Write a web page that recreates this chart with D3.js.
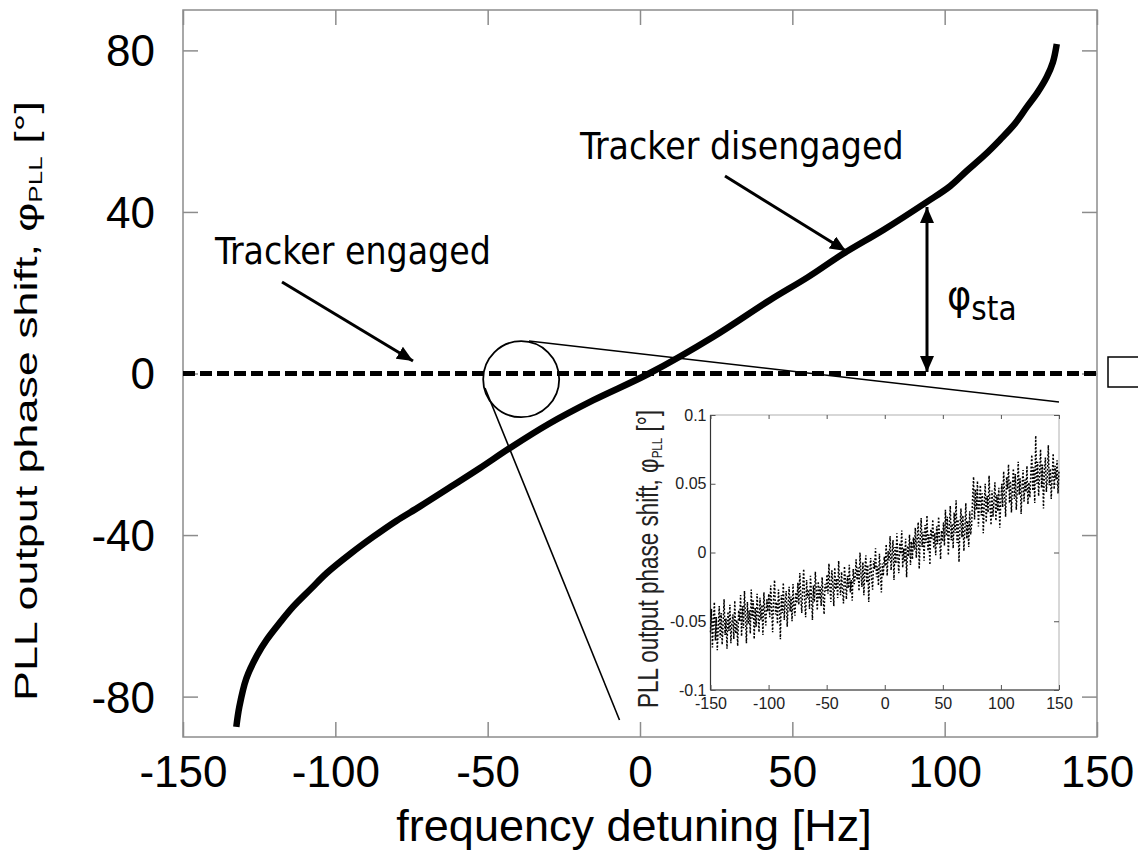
<!DOCTYPE html>
<html>
<head>
<meta charset="utf-8">
<script src="https://cdn.jsdelivr.net/npm/d3@7"></script>
<style>
  html, body { margin: 0; padding: 0; background: #fff; }
  svg { display: block; }
</style>
</head>
<body>
<svg id="chart" width="1138" height="854"></svg>
<script>
// ---------- data ----------
const xTicks = [-150, -100, -50, 0, 50, 100, 150];
const yTicks = [-80, -40, 0, 40, 80];

// Tracker disengaged: PLL output phase shift [deg] vs frequency detuning [Hz]
const disengagedHz = [-132.5, -131.5, -129.2, -125.7, -122.5, -118, -113.8, -108, -102.8, -95, -87.5, -80, -72.2, -62, -52.5, -42.6, -30, -15.3, 3, 24.1, 42.7, 55, 66.8, 80, 94.2, 101.8, 107.3, 113, 118.2, 123, 127, 130.5, 133.5, 135.5, 136.8];
const disengagedDeg = [-87.5, -82.5, -75.5, -69.8, -65.9, -61.5, -57.7, -53.3, -49.4, -44.6, -40.4, -36.5, -32.9, -28, -23.4, -18.4, -12.5, -6.6, 0, 9.1, 18.2, 23.8, 29.7, 35.6, 42.5, 46.4, 50.2, 54.0, 57.9, 61.8, 66, 69.6, 73.4, 77, 81.6];

// Tracker engaged: flat at zero over the whole range
const engagedHz = [-150, 150];
const engagedDeg = [0, 0];

// Inset (zoom of the engaged case), evenly sampled from -150 to 150 Hz
const insetXTicks = [-150, -100, -50, 0, 50, 100, 150];
const insetYTicks = [-0.1, -0.05, 0, 0.05, 0.1];
const insetDeg = [
  -0.058,-0.041,-0.069,-0.050,-0.036,-0.064,-0.047,-0.071,-0.055,-0.039,-0.062,-0.044,-0.067,-0.052,-0.034,-0.060,-0.048,-0.070,-0.043,-0.057,-0.038,-0.066,-0.051,-0.045,-0.063,-0.035,-0.059,-0.049,-0.068,-0.042,
  -0.050,-0.031,-0.061,-0.039,-0.055,-0.028,-0.047,-0.066,-0.036,-0.052,-0.042,-0.059,-0.027,-0.048,-0.035,-0.063,-0.040,-0.054,-0.030,-0.046,-0.058,-0.033,-0.049,-0.038,-0.060,-0.029,-0.045,-0.053,-0.034,-0.043,
  -0.030,-0.047,-0.024,-0.041,-0.058,-0.033,-0.020,-0.045,-0.036,-0.052,-0.027,-0.039,-0.063,-0.031,-0.044,-0.022,-0.049,-0.035,-0.028,-0.054,-0.038,-0.025,-0.043,-0.032,-0.050,-0.023,-0.040,-0.046,-0.029,-0.037,
  -0.022,-0.038,-0.015,-0.031,-0.044,-0.026,-0.012,-0.035,-0.047,-0.020,-0.033,-0.027,-0.041,-0.017,-0.030,-0.049,-0.024,-0.036,-0.014,-0.029,-0.042,-0.021,-0.034,-0.025,-0.039,-0.018,-0.032,-0.045,-0.023,-0.028,
  -0.016,-0.030,-0.008,-0.025,-0.036,-0.013,-0.022,-0.039,-0.011,-0.027,-0.019,-0.033,-0.006,-0.024,-0.031,-0.014,-0.028,-0.037,-0.010,-0.021,-0.034,-0.017,-0.026,-0.009,-0.029,-0.020,-0.035,-0.012,-0.023,-0.018,
  -0.005,-0.020,-0.011,-0.028,0.000,-0.016,-0.025,-0.007,-0.031,-0.013,-0.002,-0.022,-0.009,-0.036,-0.015,-0.004,-0.019,-0.027,-0.006,-0.012,0.003,-0.018,-0.010,-0.024,-0.001,-0.014,-0.029,-0.008,-0.017,-0.003,
  -0.010,0.006,-0.017,0.001,-0.006,0.012,-0.013,-0.002,0.009,-0.020,0.004,-0.008,0.014,-0.004,-0.015,0.007,-0.001,0.016,-0.011,0.003,-0.007,0.010,-0.018,0.005,-0.003,0.013,-0.009,0.008,-0.005,0.011,
  0.002,0.018,-0.004,0.012,0.022,-0.012,0.009,0.025,0.004,0.015,-0.006,0.020,0.007,0.027,0.001,0.013,-0.009,0.017,0.010,0.024,0.003,0.014,-0.002,0.019,0.006,0.026,0.011,-0.005,0.016,0.008,
  0.022,0.005,0.031,0.012,0.026,-0.002,0.018,0.034,0.009,0.021,0.003,0.029,0.014,0.038,0.007,0.024,-0.007,0.019,0.032,0.011,0.027,0.001,0.016,0.036,0.010,0.023,0.004,0.030,0.013,0.020,
  0.040,0.055,0.024,0.046,0.031,0.052,0.019,0.037,0.049,0.027,0.043,0.014,0.035,0.050,0.022,0.041,0.029,0.056,0.033,0.020,0.045,0.026,0.038,0.051,0.023,0.042,0.030,0.047,0.018,0.036,
  0.050,0.033,0.059,0.041,0.026,0.055,0.046,0.064,0.036,0.052,0.029,0.048,0.061,0.039,0.057,0.031,0.045,0.066,0.042,0.054,0.028,0.049,0.060,0.037,0.053,0.044,0.063,0.035,0.051,0.040,
  0.058,0.071,0.045,0.062,0.036,0.085,0.050,0.066,0.041,0.057,0.075,0.047,0.064,0.032,0.059,0.069,0.044,0.055,0.078,0.049,0.061,0.039,0.056,0.072,0.046,0.063,0.053,0.067,0.043,0.060
];

// ---------- layout ----------
const svg = d3.select("#chart");
const FRAME = "#8c8c8c";
const x = d3.scaleLinear().domain([-150, 150]).range([183, 1097]);
const y = d3.scaleLinear().domain([-90, 90]).range([737, 10]);

svg.append("defs").append("marker")
  .attr("id", "head").attr("viewBox", "0 0 16 14")
  .attr("refX", 16).attr("refY", 7)
  .attr("markerWidth", 16).attr("markerHeight", 14)
  .attr("markerUnits", "userSpaceOnUse")
  .attr("orient", "auto-start-reverse")
  .append("path").attr("d", "M0,0 L16,7 L0,14 Z").attr("fill", "#000");

// frame
svg.append("rect").attr("x", 183).attr("y", 10).attr("width", 914).attr("height", 727)
  .attr("fill", "none").attr("stroke", FRAME).attr("stroke-width", 1.5);

const tickFmt = d => String(d);
const gx = svg.append("g").attr("transform", "translate(0,737)")
  .call(d3.axisBottom(x).tickValues(xTicks).tickSize(-15).tickPadding(19).tickFormat(tickFmt));
const gxt = svg.append("g").attr("transform", "translate(0,10)")
  .call(d3.axisTop(x).tickValues(xTicks).tickSize(-15).tickFormat(""));
const gy = svg.append("g").attr("transform", "translate(183,0)")
  .call(d3.axisLeft(y).tickValues(yTicks).tickSize(-15).tickPadding(28).tickFormat(tickFmt));
const gyr = svg.append("g").attr("transform", "translate(1097,0)")
  .call(d3.axisRight(y).tickValues(yTicks).tickSize(-15).tickFormat(""));
[gx, gxt, gy, gyr].forEach(g => {
  g.select(".domain").remove();
  g.selectAll(".tick line").attr("stroke", FRAME).attr("stroke-width", 1.5);
  g.selectAll("text").attr("font-family", "'Liberation Sans', Arial, sans-serif")
    .attr("font-size", 44).attr("fill", "#000");
});
gx.selectAll("text").attr("dy", "0.71em");
gy.selectAll("text").attr("dy", "0.35em");

// axis titles
svg.append("text").attr("x", 634).attr("y", 841).attr("text-anchor", "middle")
  .attr("font-family", "'Liberation Sans', Arial, sans-serif").attr("font-size", 45)
  .text("frequency detuning [Hz]");

const yt = svg.append("text").attr("transform", "translate(37,401) rotate(-90)")
  .attr("text-anchor", "middle")
  .attr("font-family", "'Liberation Sans', Arial, sans-serif").attr("font-size", 31)
  .attr("textLength", 600).attr("lengthAdjust", "spacingAndGlyphs");
yt.append("tspan").text("PLL output phase shift, φ");
yt.append("tspan").attr("font-size", 18).attr("dy", 5).text("PLL");
yt.append("tspan").attr("dy", -5).text(" [°]");

// engaged (dashed) line
svg.append("path")
  .datum(engagedHz.map((h, i) => [h, engagedDeg[i]]))
  .attr("d", d3.line().x(d => x(d[0])).y(d => y(d[1])))
  .attr("fill", "none").attr("stroke", "#000").attr("stroke-width", 5)
  .attr("stroke-dasharray", "12,5");

// disengaged curve
svg.append("path")
  .datum(disengagedHz.map((h, i) => [h, disengagedDeg[i]]))
  .attr("d", d3.line().x(d => x(d[0])).y(d => y(d[1])).curve(d3.curveCatmullRom.alpha(0.5)))
  .attr("fill", "none").attr("stroke", "#000").attr("stroke-width", 6.5);

// annotations
const annFont = "'DejaVu Sans Condensed', 'DejaVu Sans', sans-serif";
svg.append("text").attr("x", 215).attr("y", 264).attr("font-family", annFont)
  .attr("font-size", 37).text("Tracker engaged");
svg.append("line").attr("x1", 282).attr("y1", 282).attr("x2", 413).attr("y2", 361)
  .attr("stroke", "#000").attr("stroke-width", 3).attr("marker-end", "url(#head)");

svg.append("text").attr("x", 580).attr("y", 159).attr("font-family", annFont)
  .attr("font-size", 37).text("Tracker disengaged");
svg.append("line").attr("x1", 725).attr("y1", 176).attr("x2", 846).attr("y2", 251)
  .attr("stroke", "#000").attr("stroke-width", 3).attr("marker-end", "url(#head)");

svg.append("line").attr("x1", 927).attr("y1", 207).attr("x2", 927).attr("y2", 372)
  .attr("stroke", "#000").attr("stroke-width", 3)
  .attr("marker-start", "url(#head)").attr("marker-end", "url(#head)");
const ps = svg.append("text").attr("x", 947).attr("y", 309).attr("font-family", annFont)
  .attr("font-size", 41);
ps.append("tspan").text("φ");
ps.append("tspan").attr("font-size", 33).attr("dy", 11).text("sta");

// legend-like box at right edge
svg.append("rect").attr("x", 1108).attr("y", 357).attr("width", 40).attr("height", 30)
  .attr("fill", "#fff").attr("stroke", "#000").attr("stroke-width", 1.5);

// magnifier circle and connecting lines
const cx = x(-39), cy = y(-1.4);
svg.append("circle").attr("cx", cx).attr("cy", cy).attr("r", 38)
  .attr("fill", "none").attr("stroke", "#000").attr("stroke-width", 1.8);
svg.append("line").attr("x1", 529).attr("y1", 341).attr("x2", 1059).attr("y2", 402)
  .attr("stroke", "#000").attr("stroke-width", 1.6);
svg.append("line").attr("x1", 485).attr("y1", 388).attr("x2", 619.5).attr("y2", 720)
  .attr("stroke", "#000").attr("stroke-width", 1.6);

// ---------- inset ----------
const xi = d3.scaleLinear().domain([-150, 150]).range([710.5, 1059]);
const yi = d3.scaleLinear().domain([-0.1, 0.1]).range([690, 415]);
const idx = d3.scaleLinear().domain([0, insetDeg.length - 1]).range([-150, 150]);
const inset = svg.append("g");
inset.append("rect").attr("x", 710.5).attr("y", 415).attr("width", 348.5).attr("height", 275)
  .attr("fill", "#fff").attr("stroke", "#b0b0b0").attr("stroke-width", 1);
inset.append("line").attr("x1", 710.5).attr("y1", 415).attr("x2", 710.5).attr("y2", 690)
  .attr("stroke", "#333").attr("stroke-width", 1.2);
inset.append("line").attr("x1", 710.5).attr("y1", 690).attr("x2", 1059).attr("y2", 690)
  .attr("stroke", "#333").attr("stroke-width", 1.2);

const iFmt = d => String(d);
const ix = inset.append("g").attr("transform", "translate(0,690)")
  .call(d3.axisBottom(xi).tickValues(insetXTicks).tickSize(-5).tickPadding(8).tickFormat(iFmt));
const ixt = inset.append("g").attr("transform", "translate(0,415)")
  .call(d3.axisTop(xi).tickValues(insetXTicks).tickSize(-4).tickFormat(""));
const iy = inset.append("g").attr("transform", "translate(710.5,0)")
  .call(d3.axisLeft(yi).tickValues(insetYTicks).tickSize(-5).tickPadding(4).tickFormat(iFmt));
const iyr = inset.append("g").attr("transform", "translate(1059,0)")
  .call(d3.axisRight(yi).tickValues(insetYTicks).tickSize(-5).tickFormat(""));
[ix, ixt, iy, iyr].forEach(g => {
  g.select(".domain").remove();
  g.selectAll(".tick line").attr("stroke", "#555").attr("stroke-width", 1);
  g.selectAll("text").attr("font-family", "'Liberation Sans', Arial, sans-serif")
    .attr("font-size", 16).attr("fill", "#222");
});

inset.append("path")
  .datum(insetDeg)
  .attr("d", d3.line().x((d, i) => xi(idx(i))).y(d => yi(d)))
  .attr("fill", "none").attr("stroke", "#000").attr("stroke-width", 1.5)
  .attr("stroke-dasharray", "1.8,1.8");

const it = inset.append("text").attr("transform", "translate(658,559) rotate(-90)")
  .attr("text-anchor", "middle")
  .attr("font-family", "'Liberation Sans', Arial, sans-serif").attr("font-size", 29)
  .attr("textLength", 298).attr("lengthAdjust", "spacingAndGlyphs").attr("fill", "#222");
it.append("tspan").text("PLL output phase shift, φ");
it.append("tspan").attr("font-size", 15).attr("dy", 4).text("PLL");
it.append("tspan").attr("dy", -4).text(" [°]");
</script>
</body>
</html>
